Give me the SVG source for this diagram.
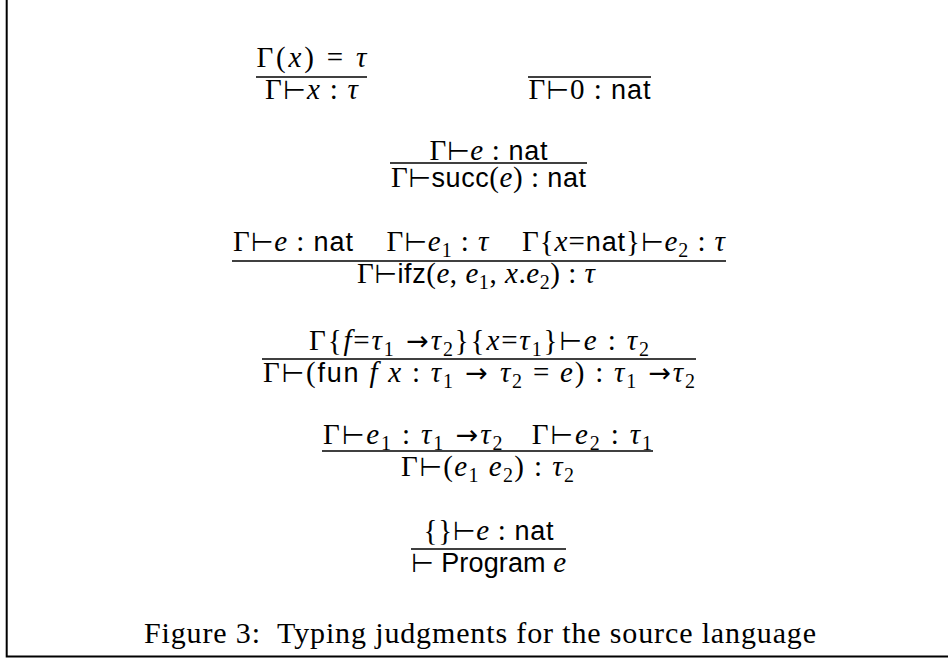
<svg xmlns="http://www.w3.org/2000/svg" width="948" height="659" viewBox="0 0 948 659">
<style>
text{font-family:"Liberation Serif","DejaVu Serif",serif;font-size:29px;fill:#000;white-space:pre;text-anchor:middle}
.i{font-style:italic}
.s{font-family:"Liberation Sans","DejaVu Sans",sans-serif;font-size:27px}
.v{font-family:"DejaVu Sans",sans-serif;font-size:26px}
.a{font-family:"DejaVu Sans",sans-serif;font-size:27px}
.b{font-size:20px}
.cap{font-size:30px}
.r{stroke:#000;stroke-width:1.6;fill:none}
.frame{stroke:#000;stroke-width:2;fill:none}
</style>
<rect width="948" height="659" fill="#fff"/>
<path class="frame" d="M6.7,0 V656.5 H948"/>
<g id="rule-var">
<text x="311.5" y="67" textLength="110">Γ(<tspan class="i">x</tspan>) = <tspan class="i">τ</tspan></text>
<line class="r" x1="256" y1="77" x2="367" y2="77"/>
<text x="311.5" y="99" textLength="93">Γ<tspan class="v">⊢</tspan><tspan class="i">x</tspan> : <tspan class="i">τ</tspan></text>
</g>
<g id="rule-zero">
<line class="r" x1="528" y1="77" x2="651" y2="77"/>
<text x="589.5" y="99" textLength="122">Γ<tspan class="v">⊢</tspan>0 : <tspan class="s">nat</tspan></text>
</g>
<g id="rule-succ">
<text x="488.5" y="159.5" textLength="118">Γ<tspan class="v">⊢</tspan><tspan class="i">e</tspan> : <tspan class="s">nat</tspan></text>
<line class="r" x1="390" y1="163" x2="587" y2="163"/>
<text x="488.5" y="187" textLength="195">Γ<tspan class="v">⊢</tspan><tspan class="s">succ</tspan>(<tspan class="i">e</tspan>) : <tspan class="s">nat</tspan></text>
</g>
<g id="rule-ifz">
<text x="479" y="251" textLength="492">Γ<tspan class="v">⊢</tspan><tspan class="i">e</tspan> : <tspan class="s">nat</tspan>    Γ<tspan class="v">⊢</tspan><tspan class="i">e</tspan><tspan class="b" dy="6">1</tspan><tspan dy="-6"> : </tspan><tspan class="i">τ</tspan>    Γ{<tspan class="i">x</tspan>=<tspan class="s">nat</tspan>}<tspan class="v">⊢</tspan><tspan class="i">e</tspan><tspan class="b" dy="6">2</tspan><tspan dy="-6"> : </tspan><tspan class="i">τ</tspan></text>
<line class="r" x1="232" y1="261" x2="726" y2="261"/>
<text x="476" y="283" textLength="238">Γ<tspan class="v">⊢</tspan><tspan class="s">ifz</tspan>(<tspan class="i">e</tspan>, <tspan class="i">e</tspan><tspan class="b" dy="6">1</tspan><tspan dy="-6">, </tspan><tspan class="i">x</tspan>.<tspan class="i">e</tspan><tspan class="b" dy="6">2</tspan><tspan dy="-6">) : </tspan><tspan class="i">τ</tspan></text>
</g>
<g id="rule-fun">
<text x="479" y="349.5" textLength="340">Γ{<tspan class="i">f</tspan>=<tspan class="i">τ</tspan><tspan class="b" dy="6">1</tspan><tspan class="a" dy="-6"> →</tspan><tspan class="i">τ</tspan><tspan class="b" dy="6">2</tspan><tspan dy="-6">}{</tspan><tspan class="i">x</tspan>=<tspan class="i">τ</tspan><tspan class="b" dy="6">1</tspan><tspan dy="-6">}</tspan><tspan class="v">⊢</tspan><tspan class="i">e</tspan> : <tspan class="i">τ</tspan><tspan class="b" dy="6">2</tspan></text>
<line class="r" x1="262" y1="359" x2="696" y2="359"/>
<text x="479" y="382" textLength="432">Γ<tspan class="v">⊢</tspan>(<tspan class="s">fun</tspan> <tspan class="i">f</tspan> <tspan class="i">x</tspan> : <tspan class="i">τ</tspan><tspan class="b" dy="6">1</tspan><tspan class="a" dy="-6"> → </tspan><tspan class="i">τ</tspan><tspan class="b" dy="6">2</tspan><tspan dy="-6"> = </tspan><tspan class="i">e</tspan>) : <tspan class="i">τ</tspan><tspan class="b" dy="6">1</tspan><tspan class="a" dy="-6"> →</tspan><tspan class="i">τ</tspan><tspan class="b" dy="6">2</tspan></text>
</g>
<g id="rule-app">
<text x="487.5" y="444" textLength="329">Γ<tspan class="v">⊢</tspan><tspan class="i">e</tspan><tspan class="b" dy="6">1</tspan><tspan dy="-6"> : </tspan><tspan class="i">τ</tspan><tspan class="b" dy="6">1</tspan><tspan class="a" dy="-6"> →</tspan><tspan class="i">τ</tspan><tspan class="b" dy="6">2</tspan><tspan dy="-6">   Γ</tspan><tspan class="v">⊢</tspan><tspan class="i">e</tspan><tspan class="b" dy="6">2</tspan><tspan dy="-6"> : </tspan><tspan class="i">τ</tspan><tspan class="b" dy="6">1</tspan></text>
<line class="r" x1="322" y1="451" x2="653" y2="451"/>
<text x="487.5" y="476" textLength="173">Γ<tspan class="v">⊢</tspan>(<tspan class="i">e</tspan><tspan class="b" dy="6">1</tspan><tspan dy="-6"> </tspan><tspan class="i">e</tspan><tspan class="b" dy="6">2</tspan><tspan dy="-6">) : </tspan><tspan class="i">τ</tspan><tspan class="b" dy="6">2</tspan></text>
</g>
<g id="rule-program">
<text x="488.5" y="539.5" textLength="130">{}<tspan class="v">⊢</tspan><tspan class="i">e</tspan> : <tspan class="s">nat</tspan></text>
<line class="r" x1="411" y1="549" x2="566" y2="549"/>
<text x="488.5" y="572" textLength="155"><tspan class="v">⊢</tspan> <tspan class="s">Program</tspan> <tspan class="i">e</tspan></text>
</g>
<g id="caption">
<text class="cap" x="480" y="643" textLength="672">Figure 3:  Typing judgments for the source language</text>
</g>
</svg>
